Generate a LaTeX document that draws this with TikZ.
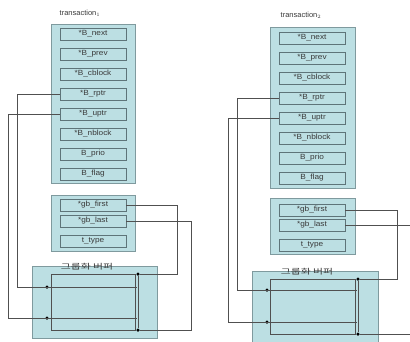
\documentclass[tikz,border=0pt]{standalone}
\usepackage{fontspec}
\setmainfont{Liberation Sans}
\newfontfamily\fld[FakeStretch=1.1]{Liberation Sans}
\newfontfamily\kr[FakeStretch=1.45]{Noto Sans CJK KR}
\definecolor{boxc}{HTML}{BCDFE3}
\definecolor{bordc}{HTML}{7F9A9E}
\definecolor{fieldc}{HTML}{5E7479}
\definecolor{linec}{HTML}{505050}
\definecolor{txtc}{HTML}{3A3A3A}
\tikzset{
  outer/.style={draw=bordc, fill=boxc, line width=0.8pt},
  field/.style={draw=fieldc, fill=boxc, line width=0.7pt, minimum width=66pt,
    minimum height=12pt, inner sep=0pt, font=\fld\fontsize{7.5}{8}\selectfont, text=txtc},
  ttl/.style={inner sep=0pt, font=\fontsize{7.5}{8}\selectfont, text=txtc},
  grp/.style={inner sep=0pt, font=\kr\fontsize{7.5}{8}\selectfont, text=txtc},
  conn/.style={draw=linec, line width=0.7pt},
  inr/.style={draw=linec, line width=0.7pt},
  dotc/.style={circle, fill=black, inner sep=0pt, minimum size=3.5pt}
}
\begin{document}
\begin{tikzpicture}[x=1pt,y=-1pt]
\clip (0,0) rectangle (410,341);
\fill[white] (0,0) rectangle (410,341);

% ---------------- left: transaction 1 ----------------
\node[ttl] (Lt) at (80,13) {transaction$_1$};
\node[outer, minimum width=84pt, minimum height=159pt, inner sep=0pt] (Lo) at (93,103.5) {};
\foreach \n/\t [count=\i from 0] in {next/*B\_next, prev/*B\_prev, cblock/*B\_cblock,
  rptr/*B\_rptr, uptr/*B\_uptr, nblock/*B\_nblock, prio/B\_prio, flag/B\_flag}
  \node[field] (L\n) at (93,34+20*\i) {\t};

\node[outer, minimum width=84pt, minimum height=56pt, inner sep=0pt] (Lo2) at (93,223) {};
\node[field] (Lgbf) at (93,205) {*gb\_first};
\node[field] (Lgbl) at (93,221) {*gb\_last};
\node[field] (Ltt) at (93,241) {t\_type};

\node[outer, minimum width=125pt, minimum height=72pt, inner sep=0pt] (Lg) at (94.5,302) {};
\node[grp] (Lgl) at (87,266.5) {그룹화 버퍼};
\draw[inr] (51,274) rectangle (135.5,330);
\node[dotc] (LdT) at (138,274) {};
\node[dotc] (LdB) at (138,330) {};
\draw[inr] (LdT) -- (LdB);
\node[dotc] (Ld1) at (47,287) {};
\node[dotc] (Ld2) at (47,318) {};
\coordinate (Lb1) at (17,287);
\coordinate (Lb2) at (8,318);
\coordinate (Le1) at (137,287);
\coordinate (Le2) at (137,318);
\coordinate (Lb3) at (177,274);
\coordinate (Lb4) at (191,330);
\draw[conn] (Lrptr.west) -| (Lb1) -- (Le1);
\draw[conn] (Luptr.west) -| (Lb2) -- (Le2);
\draw[conn] (Lgbf.east) -| (Lb3) -- (LdT);
\draw[conn] (Lgbl.east) -| (Lb4) -- (LdB);

% ---------------- right: transaction 2 ----------------
\node[ttl] (Rt) at (301,15) {transaction$_2$};
\node[outer, minimum width=85pt, minimum height=161pt, inner sep=0pt] (Ro) at (312.5,107.5) {};
\foreach \n/\t [count=\i from 0] in {next/*B\_next, prev/*B\_prev, cblock/*B\_cblock,
  rptr/*B\_rptr, uptr/*B\_uptr, nblock/*B\_nblock, prio/B\_prio, flag/B\_flag}
  \node[field] (R\n) at (312,38+20*\i) {\t};

\node[outer, minimum width=85pt, minimum height=56pt, inner sep=0pt] (Ro2) at (312.5,226) {};
\node[field] (Rgbf) at (312,210) {*gb\_first};
\node[field] (Rgbl) at (312,225) {*gb\_last};
\node[field] (Rtt) at (312,245) {t\_type};

\node[outer, minimum width=126pt, minimum height=76pt, inner sep=0pt] (Rg) at (315,309) {};
\node[grp] (Rgl) at (307,271.5) {그룹화 버퍼};
\draw[inr] (270,279) rectangle (355.5,334);
\node[dotc] (RdT) at (358,279) {};
\node[dotc] (RdB) at (358,334) {};
\draw[inr] (RdT) -- (RdB);
\node[dotc] (Rd1) at (267,290) {};
\node[dotc] (Rd2) at (267,322) {};
\coordinate (Rb1) at (237,290);
\coordinate (Rb2) at (228,322);
\coordinate (Re1) at (357,290);
\coordinate (Re2) at (357,322);
\coordinate (Rb3) at (397,279);
\coordinate (Rb4) at (414,334);
\draw[conn] (Rrptr.west) -| (Rb1) -- (Re1);
\draw[conn] (Ruptr.west) -| (Rb2) -- (Re2);
\draw[conn] (Rgbf.east) -| (Rb3) -- (RdT);
\draw[conn] (Rgbl.east) -| (Rb4) -- (RdB);
\end{tikzpicture}
\end{document}
